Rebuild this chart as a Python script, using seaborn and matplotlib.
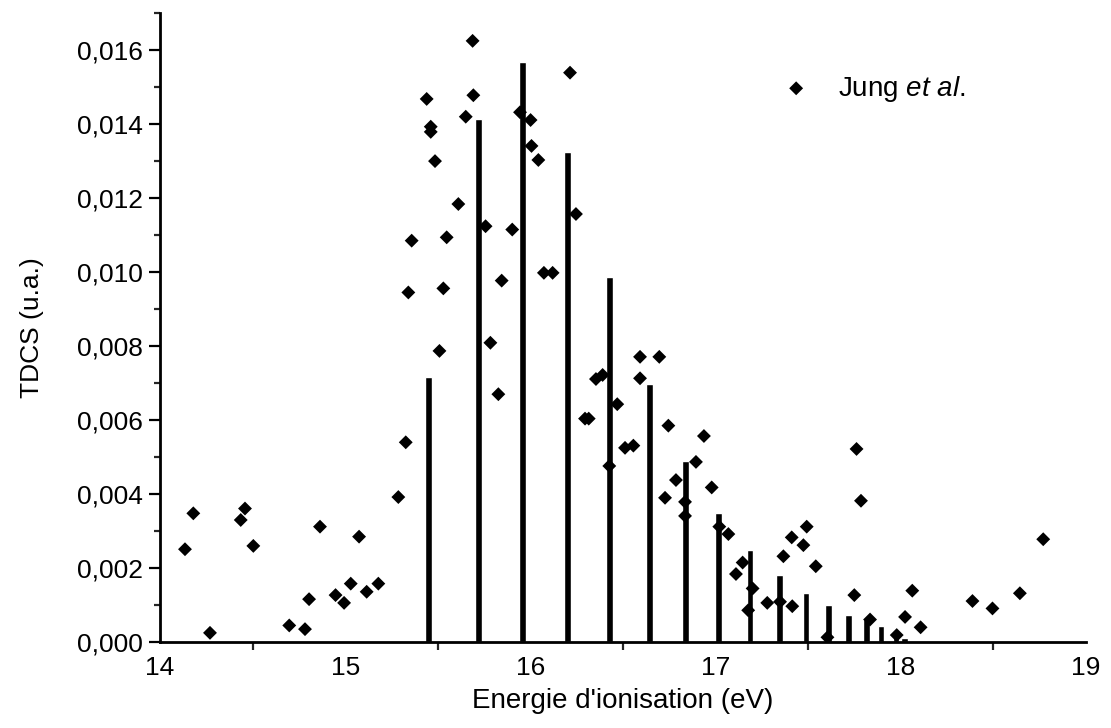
import numpy as np
import pandas as pd
import matplotlib
matplotlib.use("Agg")
import matplotlib.pyplot as plt
import seaborn as sns
from matplotlib.ticker import FuncFormatter, MultipleLocator

# calculated line spectrum (energy in eV, TDCS)
calc_energy = [15.449, 15.719, 15.958, 16.200, 16.426, 16.642, 16.838, 17.015,
               17.186, 17.344, 17.488, 17.609, 17.717, 17.815, 17.893, 17.974, 18.020]
calc_tdcs = [0.00717, 0.01415, 0.01567, 0.01325, 0.00987, 0.00697, 0.00489, 0.00348,
             0.00249, 0.00181, 0.00133, 0.00100, 0.00073, 0.00062, 0.00043, 0.00032, 0.00012]

# experimental points (Jung et al.)
jung_energy = [14.135, 14.180, 14.270, 14.436, 14.459, 14.504, 14.698, 14.783, 14.805,
               14.864, 14.948, 14.994, 15.030, 15.075, 15.116, 15.179, 15.287, 15.327,
               15.341, 15.359, 15.440, 15.462, 15.462, 15.485, 15.509, 15.530, 15.548,
               15.611, 15.651, 15.688, 15.692, 15.758, 15.784, 15.827, 15.845, 15.902,
               15.944, 16.001, 16.006, 16.043, 16.073, 16.120, 16.214, 16.246, 16.295,
               16.315, 16.354, 16.390, 16.426, 16.469, 16.511, 16.556, 16.592, 16.592,
               16.696, 16.727, 16.745, 16.786, 16.835, 16.835, 16.894, 16.937, 16.979,
               17.020, 17.069, 17.110, 17.146, 17.176, 17.200, 17.279, 17.348, 17.366,
               17.411, 17.414, 17.474, 17.492, 17.541, 17.604, 17.749, 17.761, 17.785,
               17.834, 17.978, 18.023, 18.062, 18.107, 18.387, 18.495, 18.643, 18.769]
jung_tdcs = [0.00251, 0.00348, 0.00025, 0.00330, 0.00361, 0.00260, 0.00045, 0.00035, 0.00116,
             0.00312, 0.00127, 0.00106, 0.00158, 0.00285, 0.00136, 0.00158, 0.00392, 0.00540,
             0.00945, 0.01085, 0.01468, 0.01393, 0.01379, 0.01300, 0.00787, 0.00956, 0.01094,
             0.01184, 0.01420, 0.01625, 0.01478, 0.01124, 0.00809, 0.00670, 0.00977, 0.01115,
             0.01432, 0.01411, 0.01341, 0.01303, 0.00998, 0.00998, 0.01539, 0.01157, 0.00604,
             0.00604, 0.00711, 0.00722, 0.00476, 0.00643, 0.00525, 0.00531, 0.00771, 0.00713,
             0.00771, 0.00390, 0.00585, 0.00438, 0.00379, 0.00341, 0.00487, 0.00557, 0.00418,
             0.00312, 0.00292, 0.00184, 0.00215, 0.00086, 0.00145, 0.00106, 0.00109, 0.00232,
             0.00283, 0.00097, 0.00262, 0.00312, 0.00205, 0.00013, 0.00127, 0.00522, 0.00382,
             0.00061, 0.00019, 0.00068, 0.00139, 0.00040, 0.00111, 0.00091, 0.00132, 0.00278]

sns.set_style("ticks")
plt.rcParams['font.family'] = ['Liberation Sans', 'DejaVu Sans']
plt.rcParams['mathtext.fontset'] = 'custom'
plt.rcParams['mathtext.rm'] = 'Liberation Sans'
plt.rcParams['mathtext.it'] = 'Liberation Sans:italic'
plt.rcParams['text.color'] = 'black'
plt.rcParams['axes.labelcolor'] = 'black'

fig = plt.figure(figsize=(11.11, 7.28), dpi=100)
ax = fig.add_axes([0.144, 0.118, 0.8335, 0.864])

ax.bar(calc_energy, calc_tdcs, width=0.036, color="black", zorder=2)

jung = pd.DataFrame({"energy": jung_energy, "tdcs": jung_tdcs})
sns.scatterplot(data=jung, x="energy", y="tdcs", marker="D", s=50, color="black",
                edgecolor="none", label=r"Jung $\mathit{et\ al.}$", ax=ax, zorder=3)

ax.set_xlim(14, 19)
ax.set_ylim(0, 0.017)
ax.xaxis.set_major_locator(MultipleLocator(1))
ax.xaxis.set_minor_locator(MultipleLocator(0.5))
ax.yaxis.set_major_locator(MultipleLocator(0.002))
ax.yaxis.set_minor_locator(MultipleLocator(0.001))
ax.yaxis.set_major_formatter(FuncFormatter(lambda v, p: f"{v:.3f}".replace(".", ",")))

ax.tick_params(axis="both", labelsize=19, width=1.6, colors="black")
ax.tick_params(axis="y", which="major", length=8, pad=4)
ax.tick_params(axis="y", which="minor", length=4, width=1.6)
ax.tick_params(axis="x", which="major", length=0, pad=10)
ax.tick_params(axis="x", which="minor", length=6, width=1.6)

for s in ["left", "bottom"]:
    ax.spines[s].set_linewidth(2.0)
    ax.spines[s].set_color("black")
sns.despine(ax=ax)

ax.set_xlabel("Energie d'ionisation (eV)", fontsize=20, labelpad=6, color="black")
ax.set_ylabel("TDCS (u.a.)", fontsize=19, labelpad=24, color="black")

leg = ax.legend(loc="center left", bbox_to_anchor=(0.63, 0.88), frameon=False, fontsize=20,
                handletextpad=0.5, markerscale=1.0)
for t in leg.get_texts():
    t.set_color("black")

plt.savefig("out.png", dpi=100)
